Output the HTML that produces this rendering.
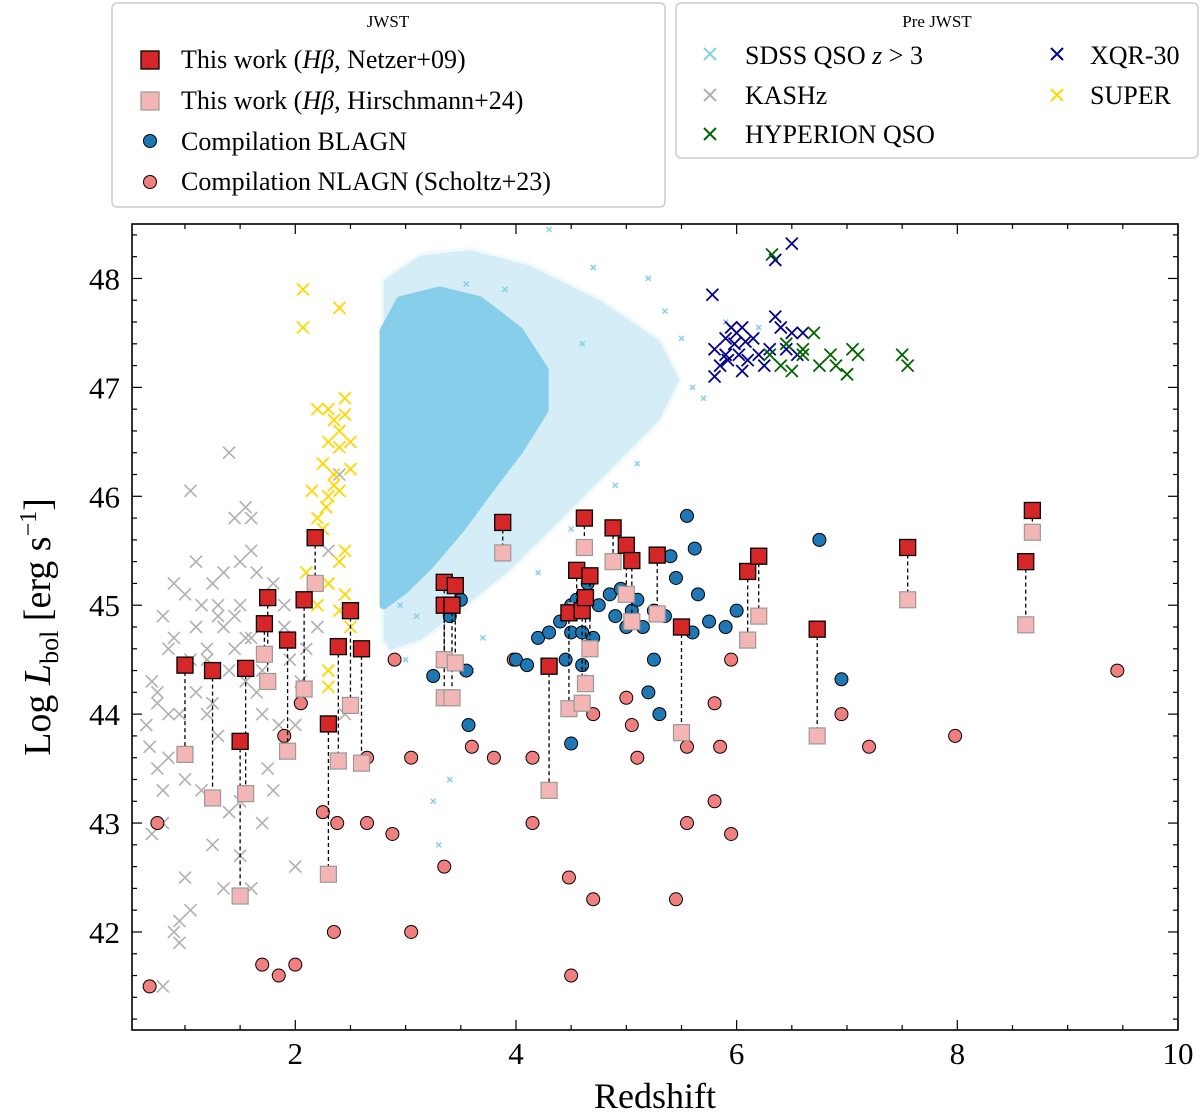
<!DOCTYPE html>
<html><head><meta charset="utf-8">
<style>
body{margin:0;background:#fff;}
svg{display:block;font-family:"Liberation Serif",serif;}
</style></head>
<body>
<svg id="chart" width="1200" height="1116" viewBox="0 0 1200 1116" xmlns="http://www.w3.org/2000/svg"></svg>
<script>
// ---- data ----
const netzerZ = [1.0,1.25,1.5,1.55,1.72,1.75,1.93,2.08,2.18,2.3,2.39,2.5,2.6,3.35,3.35,3.42,3.45,3.88,4.3,4.48,4.55,4.62,4.6,4.63,4.67,4.88,5.0,5.05,5.28,5.5,6.1,6.2,6.73,7.55,8.62,8.68];
const netzerL = [44.45,44.4,43.75,44.42,44.83,45.07,44.68,45.05,45.62,43.91,44.62,44.95,44.6,45.21,45.0,45.0,45.18,45.76,44.44,44.93,45.32,45.8,44.95,45.07,45.27,45.71,45.55,45.41,45.46,44.8,45.31,45.45,44.78,45.53,45.4,45.87];
const hirschL = [43.63,43.23,42.33,43.27,44.55,44.3,43.66,44.23,45.2,42.53,43.57,44.08,43.55,44.5,44.15,44.15,44.47,45.48,43.3,44.05,44.95,45.53,44.1,44.28,44.6,45.4,45.1,44.85,44.92,43.83,44.68,44.9,43.8,45.05,44.82,45.67];
const blZ = [3.25,3.4,3.5,3.55,3.57,4.0,4.1,4.2,4.3,4.4,4.45,4.5,4.5,4.5,4.55,4.6,4.6,4.65,4.7,4.75,4.85,4.9,4.95,5.0,5.05,5.1,5.15,5.2,5.25,5.25,5.3,5.35,5.4,5.45,5.55,5.6,5.62,5.65,5.75,5.9,6.0,6.75,6.95];
const blL = [44.35,44.9,45.05,44.4,43.9,44.5,44.45,44.7,44.75,44.85,44.5,43.73,45.0,44.75,45.05,44.45,44.75,45.2,44.7,45.0,45.1,44.9,45.15,44.8,44.95,45.05,44.8,44.2,44.5,44.95,44.0,44.9,45.45,45.25,45.82,44.75,45.52,45.1,44.85,44.8,44.95,45.6,44.32];
const nlZ = [0.68,0.75,1.7,1.85,1.9,2.0,2.05,2.25,2.35,2.38,2.65,2.65,2.88,2.9,3.05,3.05,3.35,3.6,3.8,3.98,4.15,4.15,4.48,4.5,4.7,4.7,5.0,5.05,5.1,5.45,5.55,5.55,5.8,5.8,5.85,5.95,5.95,6.95,7.2,7.98,9.45];
const nlL = [41.5,43.0,41.7,41.6,43.8,41.7,44.1,43.1,42.0,43.0,43.6,43.0,42.9,44.5,43.6,42.0,42.6,43.7,43.6,44.5,43.6,43.0,42.5,41.6,42.3,44.0,44.15,43.9,43.6,42.3,43.7,43.0,43.2,44.1,43.7,42.9,44.5,44.0,43.7,43.8,44.4];
const xqrZ = [5.78,5.8,5.8,5.85,5.9,5.9,5.95,5.98,6.0,6.02,6.05,6.05,6.1,6.15,6.2,6.25,6.3,6.35,6.35,6.4,6.5,6.5,6.55,6.6,6.45,5.92,6.08];
const xqrL = [47.85,47.1,47.35,47.2,47.3,47.45,47.55,47.4,47.5,47.3,47.55,47.15,47.25,47.45,47.3,47.2,47.35,47.65,48.17,47.55,48.32,47.5,47.3,47.5,47.35,47.25,47.42];
const hypZ = [6.32,6.4,6.5,6.6,6.7,6.75,6.85,6.9,7.0,7.05,7.1,7.5,7.55,6.45,6.3,6.6];
const hypL = [48.22,47.2,47.15,47.3,47.5,47.2,47.3,47.2,47.12,47.35,47.3,47.3,47.2,47.4,47.3,47.35];
const supZ = [2.07,2.07,2.4,2.2,2.3,2.35,2.4,2.45,2.45,2.5,2.4,2.3,2.25,2.35,2.5,2.4,2.3,2.15,2.2,2.25,2.45,2.4,2.3,2.45,2.4,2.5,2.3,2.3,2.2,2.1,2.35,2.28];
const supL = [47.9,47.55,47.73,46.8,46.8,46.7,46.6,46.9,46.75,46.5,46.45,46.5,46.3,46.2,46.25,46.05,46.0,46.05,45.8,45.7,45.5,45.4,45.2,45.1,44.95,44.8,44.4,44.25,45.0,45.3,46.1,45.9];
const kasZ = [0.65,0.7,0.75,0.8,0.85,0.9,0.95,1.0,1.05,1.1,0.7,0.8,0.9,1.0,1.1,1.2,1.25,1.3,1.35,1.4,1.45,1.5,1.55,1.6,1.65,1.7,1.2,1.3,1.4,1.5,1.6,1.7,1.8,1.9,2.0,2.1,1.45,1.5,1.55,1.6,1.35,1.25,1.15,1.05,0.95,0.85,0.75,0.68,1.4,1.5,1.6,1.7,1.8,1.9,2.0,2.2,2.3,2.4,2.45,1.3,1.2,1.1,1.0,0.9,0.8,1.75,1.85,1.95,2.05,1.65,1.55,1.45,1.35,1.25,1.15,1.05,0.95,0.85,0.8,0.75];
const kasL = [43.9,44.3,43.5,43.0,44.6,45.2,44.0,43.4,46.05,44.8,42.9,41.5,42.0,42.5,45.4,44.6,45.2,44.9,45.3,46.4,45.8,45.0,45.9,45.5,44.2,43.0,44.0,43.8,44.4,43.2,44.7,44.0,45.2,44.8,42.6,44.6,44.9,45.4,44.3,45.8,42.4,42.8,43.3,42.2,41.9,43.6,44.1,43.7,43.1,42.7,42.4,44.4,43.3,45.0,43.9,44.8,45.5,46.2,44.0,45.0,44.5,44.2,45.1,44.7,44.9,43.5,43.9,44.5,44.3,45.3,44.7,44.6,44.8,44.1,45.0,44.5,42.1,44.0,43.3,44.2];
const sdssOutZ = [3.3,3.4,3.7,4.3,3.25,3.55,4.6,5.5,5.9,6.2,3.1,2.95,5.6,3.9,4.9,5.1,5.7,4.5,4.2,3.6,3.0,5.35,5.2,4.7];
const sdssOutL = [42.8,43.4,44.7,48.45,43.2,47.95,47.4,47.45,47.6,47.55,44.9,45.0,47.0,47.9,46.1,46.3,46.9,45.7,45.3,44.4,44.5,47.7,48.0,48.1];
const cloudOuterZ = [2.80,3.13,3.58,4.12,4.76,5.30,5.48,5.30,4.85,4.40,3.94,3.49,3.13,2.86,2.80];
const cloudOuterL = [47.98,48.21,48.26,48.12,47.80,47.43,47.07,46.70,46.24,45.78,45.32,44.95,44.68,44.59,44.68];
const cloudCoreZ = [2.80,2.95,3.31,3.67,4.03,4.26,4.26,4.03,3.76,3.49,3.22,2.99,2.80];
const cloudCoreL = [47.52,47.80,47.89,47.80,47.52,47.16,46.79,46.42,46.06,45.69,45.37,45.14,45.00];
const xTicks = [2,4,6,8,10];
const yTicks = [42,43,44,45,46,47,48];

// ---- axes ----
const X0=132,X1=1178,Y0=224,Y1=1030, zmin=0.52,zmax=10, lmin=41.1,lmax=48.5;
const sx=z=>X0+(z-zmin)/(zmax-zmin)*(X1-X0);
const sy=l=>Y1-(l-lmin)/(lmax-lmin)*(Y1-Y0);
const NS="http://www.w3.org/2000/svg";
const svg=document.getElementById('chart');
function mk(tag,attrs,parent){const e=document.createElementNS(NS,tag);for(const k in attrs)e.setAttribute(k,attrs[k]);(parent||svg).appendChild(e);return e;}

const clip=mk('clipPath',{id:'pc'});mk('rect',{x:X0,y:Y0,width:X1-X0,height:Y1-Y0},clip);
const g=mk('g',{'clip-path':'url(#pc)'});



function xmark(z,l,color,size,w,name,parent){
  const s=size;
  const p=mk('path',{d:`M${sx(z)-s},${sy(l)-s}L${sx(z)+s},${sy(l)+s}M${sx(z)-s},${sy(l)+s}L${sx(z)+s},${sy(l)-s}`,stroke:color,'stroke-width':w,fill:'none'},parent);
  
  
}
// SDSS cloud
let pts=cloudOuterZ.map((z,i)=>sx(z)+','+sy(cloudOuterL[i])).join(' ');
let poly=mk('polygon',{points:pts,fill:'#87CEEB',opacity:0.35,'stroke':'#87CEEB','stroke-width':6,'stroke-opacity':0.3,'stroke-linejoin':'round'},g);


pts=cloudCoreZ.map((z,i)=>sx(z)+','+sy(cloudCoreL[i])).join(' ');
poly=mk('polygon',{points:pts,fill:'#87CEEB',stroke:'#87CEEB','stroke-width':8,'stroke-linejoin':'round'},g);


sdssOutZ.forEach((z,i)=>xmark(z,sdssOutL[i],'#87CEEB',2.5,1.5,'sdss-qso-point',g));
// KASHz
kasZ.forEach((z,i)=>xmark(z,kasL[i],'#b0b0b0',6,1.6,'kashz-point',g));
supZ.forEach((z,i)=>xmark(z,supL[i],'#FFD700',6,1.8,'super-point',g));
xqrZ.forEach((z,i)=>xmark(z,xqrL[i],'#00008B',6,1.8,'xqr30-point',g));
hypZ.forEach((z,i)=>xmark(z,hypL[i],'#006400',6,1.8,'hyperion-point',g));
// NLAGN
nlZ.forEach((z,i)=>{const c=mk('circle',{cx:sx(z),cy:sy(nlL[i]),r:6.5,fill:'#F08080',stroke:'#000','stroke-width':1},g);
 
 });
blZ.forEach((z,i)=>{const c=mk('circle',{cx:sx(z),cy:sy(blL[i]),r:6.5,fill:'#1f77b4',stroke:'#000','stroke-width':1},g);
 
 });
// this work
netzerZ.forEach((z,i)=>{
 const ln=mk('line',{x1:sx(z),x2:sx(z),y1:sy(netzerL[i]),y2:sy(hirschL[i]),stroke:'#000','stroke-width':1.3,'stroke-dasharray':'4,3'},g);
 
 });
netzerZ.forEach((z,i)=>{
 const r=mk('rect',{x:sx(z)-8,y:sy(hirschL[i])-8,width:16,height:16,fill:'#F4B6B4',stroke:'#999','stroke-width':1.2},g);
 
 });
netzerZ.forEach((z,i)=>{
 const r=mk('rect',{x:sx(z)-8,y:sy(netzerL[i])-8,width:16,height:16,fill:'#D62728',stroke:'#000','stroke-width':1.3},g);
 
 });

// frame & ticks
const fr=mk('rect',{x:X0,y:Y0,width:X1-X0,height:Y1-Y0,fill:'none',stroke:'#000','stroke-width':1.6});


for(let z=1;z<=10.01;z+=0.5){const major=xTicks.includes(Math.round(z*10)/10);const L=major?10:5;
 mk('line',{x1:sx(z),x2:sx(z),y1:Y1,y2:Y1-L,stroke:'#000','stroke-width':1.2});
 mk('line',{x1:sx(z),x2:sx(z),y1:Y0,y2:Y0+L,stroke:'#000','stroke-width':1.2});}
for(let l=41.2;l<=48.45;l+=0.2){const major=Math.abs(l-Math.round(l))<0.01;const L=major?10:5;
 mk('line',{x1:X0,x2:X0+L,y1:sy(l),y2:sy(l),stroke:'#000','stroke-width':1.2});
 mk('line',{x1:X1,x2:X1-L,y1:sy(l),y2:sy(l),stroke:'#000','stroke-width':1.2});}
xTicks.forEach(t=>{const e=mk('text',{x:sx(t),y:1064,'text-anchor':'middle','font-size':31});e.textContent=t;
 
 });
yTicks.forEach(t=>{const e=mk('text',{x:120,y:sy(t)+11,'text-anchor':'end','font-size':31});e.textContent=t;
 
 });
</script>
<svg style="position:absolute;left:0;top:0" width="1200" height="1116">
 <text x="655" y="1108" text-anchor="middle" font-size="36" font-family="Liberation Serif, serif">Redshift</text>
 <text transform="translate(50,627) rotate(-90)" text-anchor="middle" font-size="38" font-family="Liberation Serif, serif">Log <tspan font-style="italic">L</tspan><tspan font-size="26" dy="8">bol</tspan><tspan dy="-8"> [erg s</tspan><tspan font-size="24" dy="-14">−1</tspan><tspan dy="14">]</tspan></text>
 <g font-family="Liberation Serif, serif">
  <rect x="112" y="3" width="553" height="204" rx="5" fill="#fff" stroke="#ccc" stroke-width="1.5"/>
  <text x="388" y="27" text-anchor="middle" font-size="17">JWST</text>
  <rect x="141" y="51" width="18" height="18" fill="#D62728" stroke="#000" stroke-width="1.3"/>
  <text x="181" y="68" font-size="26">This work (<tspan font-style="italic">Hβ</tspan>, Netzer+09)</text>
  <rect x="141" y="92" width="18" height="18" fill="#F4B6B4" stroke="#999" stroke-width="1.2"/>
  <text x="181" y="109" font-size="26">This work (<tspan font-style="italic">Hβ</tspan>, Hirschmann+24)</text>
  <circle cx="150" cy="141" r="6.5" fill="#1f77b4" stroke="#000"/>
  <text x="181" y="150" font-size="26">Compilation BLAGN</text>
  <circle cx="150" cy="182" r="6.5" fill="#F08080" stroke="#000"/>
  <text x="181" y="190" font-size="26">Compilation NLAGN (Scholtz+23)</text>
 </g>
 <g font-family="Liberation Serif, serif" stroke-width="2">
  <rect x="676" y="3" width="522" height="155" rx="5" fill="#fff" stroke="#ccc" stroke-width="1.5"/>
  <text x="937" y="27" text-anchor="middle" font-size="17">Pre JWST</text>
  <path d="M704,48L716,60M704,60L716,48" stroke="#87CEEB"/>
  <text x="745" y="64" font-size="26">SDSS QSO <tspan font-style="italic">z</tspan> &gt; 3</text>
  <path d="M704,89L716,101M704,101L716,89" stroke="#b0b0b0"/>
  <text x="745" y="104" font-size="26">KASHz</text>
  <path d="M704,128L716,140M704,140L716,128" stroke="#006400"/>
  <text x="745" y="143" font-size="26">HYPERION QSO</text>
  <path d="M1051,48L1063,60M1051,60L1063,48" stroke="#00008B"/>
  <text x="1090" y="64" font-size="26">XQR-30</text>
  <path d="M1051,89L1063,101M1051,101L1063,89" stroke="#FFD700"/>
  <text x="1090" y="104" font-size="26">SUPER</text>
 </g>
</svg>
</body></html>
